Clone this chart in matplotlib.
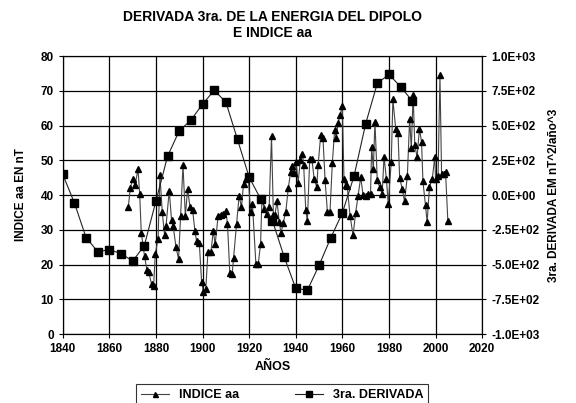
import matplotlib.pyplot as plt
from matplotlib.ticker import FuncFormatter

plt.rcParams['font.family'] = ['Liberation Sans', 'DejaVu Sans']
plt.rcParams['font.weight'] = 'bold'

# INDICE aa (nT), years
aa_years = [1868.1, 1869.0, 1870.0, 1871.0, 1872.3, 1873.0, 1873.7, 1875.1, 1876.1, 1876.9,
            1878.1, 1879.0, 1879.7, 1880.9, 1881.7, 1882.7, 1883.7, 1884.3, 1885.7, 1886.7,
            1887.4, 1888.6, 1889.7, 1890.6, 1891.6, 1892.6, 1893.6, 1894.6, 1895.7, 1896.7,
            1897.4, 1898.6, 1899.6, 1900.4, 1901.4, 1902.3, 1903.6, 1904.6, 1905.4, 1906.7,
            1907.9, 1908.9, 1910.0, 1910.7, 1911.7, 1912.7, 1913.3, 1914.6, 1915.7, 1916.7,
            1917.6, 1918.6, 1919.6, 1920.6, 1921.4, 1922.9, 1923.9, 1924.9, 1925.5, 1926.5,
            1927.5, 1928.6, 1929.6, 1930.4, 1931.0, 1932.0, 1932.9, 1933.7, 1934.6, 1935.7,
            1936.8, 1937.8, 1938.6, 1939.3, 1940.2, 1941.0, 1942.0, 1942.9, 1943.4, 1944.3,
            1945.0, 1946.0, 1946.9, 1947.9, 1949.0, 1949.6, 1950.7, 1951.7, 1952.6, 1953.6,
            1954.7, 1955.7, 1956.7, 1957.4, 1958.1, 1959.0, 1960.0, 1960.7, 1961.4, 1962.1,
            1963.3, 1964.6, 1965.7, 1966.7, 1967.9, 1968.9, 1970.0, 1971.1, 1972.1, 1972.6,
            1973.3, 1974.0, 1975.0, 1976.0, 1977.1, 1977.9, 1978.9, 1979.7, 1981.0, 1981.7,
            1982.9, 1983.9, 1984.6, 1985.7, 1986.7, 1987.9, 1988.9, 1989.6, 1990.4, 1991.1,
            1992.1, 1993.1, 1994.0, 1994.6, 1995.7, 1996.4, 1997.4, 1998.6, 1999.7, 2000.0,
            2001.1, 2001.9, 2002.6, 2003.6, 2004.3, 2005.3]
aa_values = [36.5, 42.0, 44.7, 42.8, 47.4, 40.4, 29.1, 22.4, 18.5, 17.8,
             14.4, 13.9, 23.1, 27.4, 45.7, 35.1, 28.4, 31.0, 41.3, 32.7,
             31.0, 25.0, 21.6, 34.1, 48.6, 34.1, 41.7, 36.5, 35.8, 29.8,
             26.9, 26.2, 14.9, 12.0, 13.0, 23.6, 23.6, 29.8, 25.8, 34.1,
             34.3, 34.6, 35.4, 31.7, 17.5, 17.3, 21.9, 31.7, 39.8, 36.5,
             43.3, 44.7, 45.2, 35.1, 37.5, 20.1, 20.1, 25.9, 39.0, 36.0,
             34.5, 36.7, 57.0, 34.3, 34.2, 38.2, 32.2, 29.0, 32.0, 35.0,
             42.0, 46.6, 48.5, 46.3, 49.5, 43.6, 50.0, 51.9, 48.6, 35.6,
             32.5, 50.5, 50.5, 44.7, 42.3, 48.6, 57.2, 56.3, 44.2, 35.1,
             35.1, 49.2, 58.7, 56.5, 60.6, 63.0, 65.6, 44.7, 42.8, 42.5,
             34.1, 28.4, 34.8, 39.6, 45.2, 39.9, 39.7, 40.2, 40.4, 53.8,
             47.6, 61.1, 44.2, 42.3, 40.4, 51.0, 44.7, 37.5, 49.5, 67.5,
             59.1, 57.9, 45.0, 41.8, 38.2, 45.4, 62.0, 53.4, 68.8, 54.3,
             51.0, 59.1, 55.3, 43.9, 37.0, 32.2, 42.3, 44.7, 51.0, 44.7,
             45.4, 74.5, 46.0, 46.2, 46.7, 32.4]

# 3ra. derivada de la energia del dipolo (nT^2/año^3)
der_years = [1840, 1845, 1850, 1855, 1860, 1865, 1870, 1875, 1880, 1885, 1890,
             1895, 1900, 1905, 1910, 1915, 1920, 1925, 1930, 1935, 1940, 1945,
             1950, 1955, 1960, 1965, 1970, 1975, 1980, 1985, 1990]
der_values = [148, -57, -306, -407, -393, -421, -475, -364, -42, 280, 462,
              539, 654, 753, 669, 400, 128, -30, -184, -443, -671, -684,
              -506, -309, -129, 135, 512, 803, 868, 779, 678]

fig, ax = plt.subplots(figsize=(5.76, 4.03), dpi=100)
fig.subplots_adjust(left=0.109, right=0.837, top=0.861, bottom=0.171)

ax.plot(aa_years, aa_values, color='#444444', lw=0.8, marker='^', ms=4.5,
        mfc='black', mec='black', label='INDICE aa')
ax.set_xlim(1840, 2020)
ax.set_ylim(0, 80)
ax.set_xticks(range(1840, 2021, 20))
ax.set_yticks(range(0, 81, 10))
ax.grid(True, color='black', lw=0.9)
ax.set_axisbelow(True)
ax.tick_params(labelsize=8.5, length=3, width=0.8)
ax.set_xlabel('AÑOS', fontsize=9, fontweight='bold')
ax.set_ylabel('INDICE aa EN nT', fontsize=8.5, fontweight='bold', labelpad=10)

ax2 = ax.twinx()
ax2.plot(der_years, der_values, color='#222222', lw=0.8, marker='s', ms=5.5,
         mfc='black', mec='black', label='3ra. DERIVADA')
ax2.set_ylim(-1000, 1000)
ax2.set_yticks(range(-1000, 1001, 250))
ax2.yaxis.set_major_formatter(FuncFormatter(lambda v, p: f'{v:.1E}'))
ax2.tick_params(labelsize=8.5, length=3, width=0.8)
ax2.set_ylabel('3ra. DERIVADA EM nT^2/año^3', fontsize=8.5, fontweight='bold',
               rotation=90, labelpad=6)

for a in (ax, ax2):
    for s in a.spines.values():
        s.set_linewidth(0.8)
    for lab in a.get_xticklabels() + a.get_yticklabels():
        lab.set_fontweight('bold')

ax.set_title('DERIVADA 3ra. DE LA ENERGIA DEL DIPOLO\nE INDICE aa',
             fontsize=10, fontweight='bold', pad=14, linespacing=1.1)

h1, l1 = ax.get_legend_handles_labels()
h2, l2 = ax2.get_legend_handles_labels()
leg = fig.legend(h1 + h2, l1 + l2, loc='upper center', bbox_to_anchor=(0.49, 0.046),
                 ncol=2, fontsize=9, frameon=True, fancybox=False, edgecolor='black',
                 columnspacing=4.5, handlelength=2.2, markerscale=0.8, borderaxespad=0)
leg.get_frame().set_linewidth(0.8)
for t in leg.get_texts():
    t.set_fontweight('bold')

fig.savefig('out.png', dpi=100)
